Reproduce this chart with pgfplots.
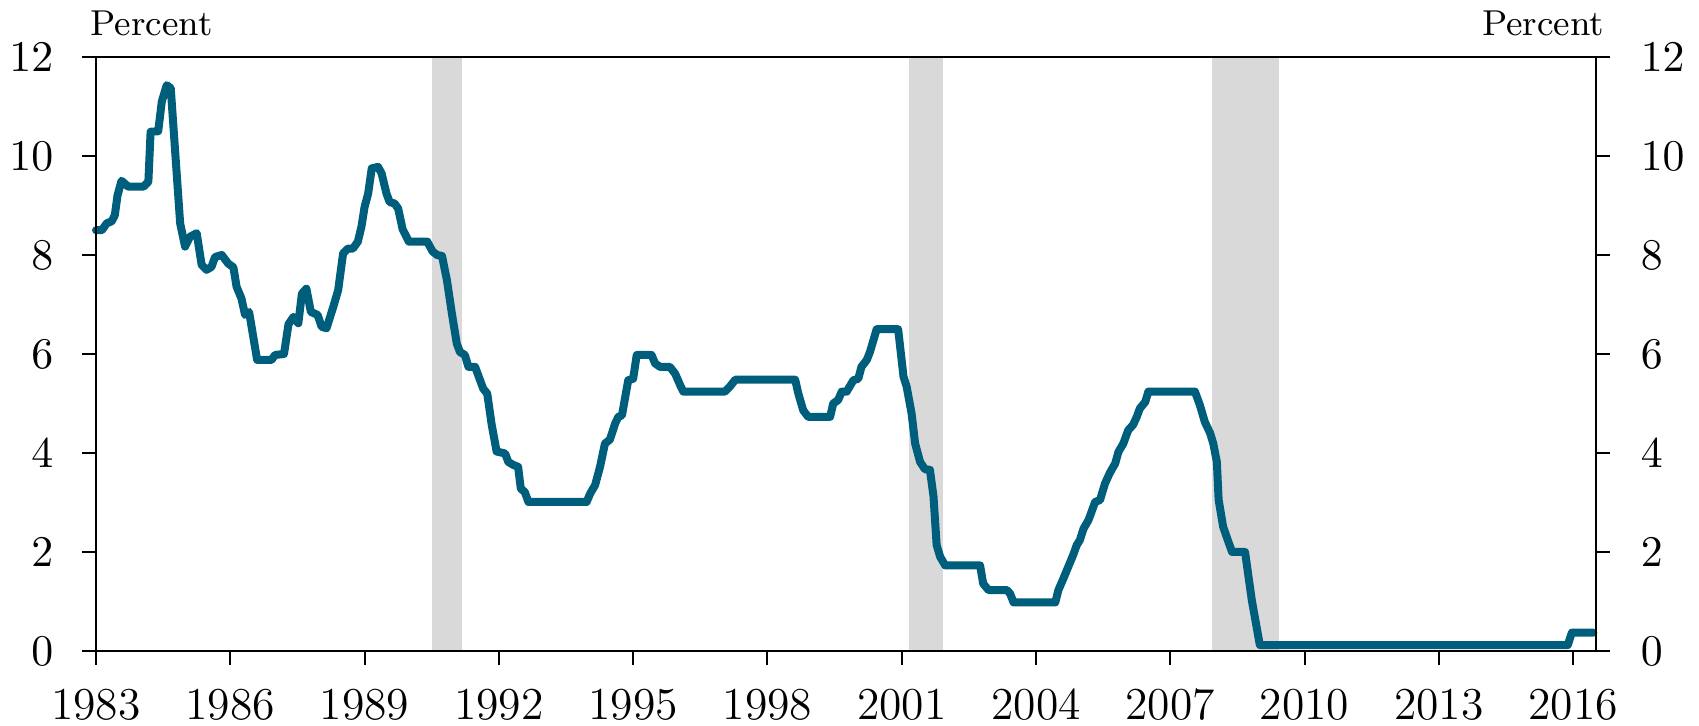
\documentclass[border=0pt]{standalone}
\usepackage{pgfplots}
\usepackage{pgfplotstable}
\pgfplotsset{compat=1.18}
\definecolor{fedblue}{RGB}{0,94,125}
\definecolor{recgray}{RGB}{217,217,217}
\pgfplotstableread{
x y
1983.00 8.50
1983.13 8.50
1983.24 8.64
1983.35 8.68
1983.42 8.80
1983.48 9.20
1983.57 9.50
1983.72 9.38
1984.06 9.38
1984.17 9.48
1984.22 10.49
1984.39 10.50
1984.47 11.10
1984.58 11.43
1984.67 11.37
1984.88 8.64
1984.99 8.17
1985.10 8.37
1985.25 8.44
1985.36 7.80
1985.47 7.70
1985.58 7.76
1985.66 7.96
1985.81 8.00
1985.95 7.83
1986.07 7.75
1986.14 7.36
1986.25 7.12
1986.33 6.79
1986.42 6.85
1986.60 5.88
1986.92 5.88
1987.00 5.98
1987.20 6.00
1987.30 6.60
1987.41 6.75
1987.52 6.62
1987.60 7.22
1987.70 7.32
1987.80 6.85
1987.95 6.79
1988.04 6.55
1988.15 6.52
1988.23 6.75
1988.30 6.95
1988.41 7.29
1988.52 8.03
1988.63 8.13
1988.74 8.13
1988.85 8.27
1988.93 8.57
1989.00 8.97
1989.08 9.24
1989.16 9.75
1989.30 9.78
1989.38 9.65
1989.49 9.24
1989.56 9.07
1989.67 9.04
1989.75 8.94
1989.85 8.52
1989.99 8.27
1990.40 8.27
1990.52 8.07
1990.62 8.00
1990.73 7.98
1990.84 7.49
1990.95 6.82
1991.06 6.21
1991.13 6.04
1991.24 5.98
1991.32 5.74
1991.47 5.74
1991.58 5.47
1991.65 5.30
1991.74 5.20
1991.84 4.57
1991.95 4.03
1992.14 3.99
1992.21 3.82
1992.32 3.76
1992.43 3.72
1992.49 3.28
1992.58 3.21
1992.66 3.01
1993.96 3.01
1994.04 3.18
1994.15 3.35
1994.26 3.72
1994.37 4.19
1994.48 4.27
1994.60 4.60
1994.67 4.73
1994.75 4.76
1994.89 5.47
1995.00 5.50
1995.08 5.98
1995.41 5.98
1995.49 5.81
1995.60 5.74
1995.82 5.74
1995.94 5.60
1996.05 5.37
1996.12 5.24
1997.05 5.24
1997.16 5.34
1997.28 5.48
1998.62 5.48
1998.69 5.20
1998.80 4.86
1998.91 4.73
1999.40 4.73
1999.47 5.00
1999.58 5.07
1999.66 5.24
1999.77 5.24
1999.92 5.47
2000.03 5.50
2000.10 5.74
2000.22 5.88
2000.29 6.04
2000.44 6.50
2000.92 6.50
2001.04 5.54
2001.11 5.34
2001.22 4.80
2001.30 4.19
2001.41 3.82
2001.52 3.67
2001.63 3.66
2001.71 3.12
2001.78 2.14
2001.86 1.90
2001.97 1.73
2002.75 1.73
2002.82 1.36
2002.94 1.23
2003.35 1.23
2003.42 1.16
2003.50 0.98
2004.43 0.98
2004.50 1.23
2004.61 1.46
2004.72 1.70
2004.83 1.94
2004.91 2.14
2004.98 2.24
2005.06 2.47
2005.17 2.64
2005.24 2.81
2005.32 3.01
2005.43 3.05
2005.54 3.38
2005.65 3.60
2005.77 3.79
2005.84 4.02
2005.95 4.19
2006.06 4.46
2006.17 4.57
2006.25 4.73
2006.32 4.90
2006.44 5.03
2006.51 5.24
2007.55 5.24
2007.66 4.97
2007.77 4.63
2007.89 4.40
2007.96 4.19
2008.04 3.82
2008.08 3.05
2008.18 2.51
2008.30 2.20
2008.38 2.00
2008.67 2.00
2008.82 1.03
2009.00 0.12
2015.88 0.12
2015.97 0.37
2016.45 0.37
}\ffr
\pgfplotsset{
  common/.style={
    scale only axis, width=375pt, height=148.5pt,
    xmin=1983, xmax=2016.51, ymin=0, ymax=12,
    ytick={0,2,...,12},
    tick align=outside, major tick length=3.5pt,
    axis line style={line width=0.5pt},
    every tick/.style={line width=0.5pt, black},
    tick label style={font=\fontsize{11.4}{13}\selectfont, inner sep=0pt},
  }
}
\begin{document}
\begin{tikzpicture}
\begin{axis}[common, axis on top,
    xtick={1983,1986,...,2016},
    xticklabels={1983,1986,1989,1992,1995,1998,2001,2004,2007,2010,2013,2016},
    xtick pos=bottom, ytick pos=both, yticklabel pos=left,
    xticklabel style={anchor=north, yshift=-5.75pt},
    yticklabel style={anchor=east, xshift=-7pt},
    clip=false]
  \addplot[fill=recgray, draw=none] coordinates {(1990.5,12) (1991.17,12)} \closedcycle;
  \addplot[fill=recgray, draw=none] coordinates {(2001.17,12) (2001.92,12)} \closedcycle;
  \addplot[fill=recgray, draw=none] coordinates {(2007.94,12) (2009.43,12)} \closedcycle;
  \addplot[fedblue, line width=2pt, line join=round, line cap=round] table[x=x,y=y] {\ffr};
  \coordinate (SW) at (rel axis cs:0,0);
  \coordinate (NE) at (rel axis cs:1,1);
  \node[anchor=base west, inner sep=0pt, font=\fontsize{9}{11}\selectfont] at ([xshift=-1.5pt,yshift=5.25pt]rel axis cs:0,1) {Percent};
  \node[anchor=base east, inner sep=0pt, font=\fontsize{9}{11}\selectfont] at ([xshift=2.25pt,yshift=5.25pt]rel axis cs:1,1) {Percent};
\end{axis}
\begin{axis}[common,
    axis x line=none, axis y line*=right,
    major tick length=0pt,
    ytick pos=right, yticklabel pos=right,
    yticklabel style={anchor=west, xshift=11pt}]
\end{axis}
\pgfresetboundingbox
\path[use as bounding box] ([xshift=-24pt,yshift=-18.75pt]SW) rectangle ([xshift=25.75pt,yshift=14.25pt]NE);
\end{tikzpicture}
\end{document}
